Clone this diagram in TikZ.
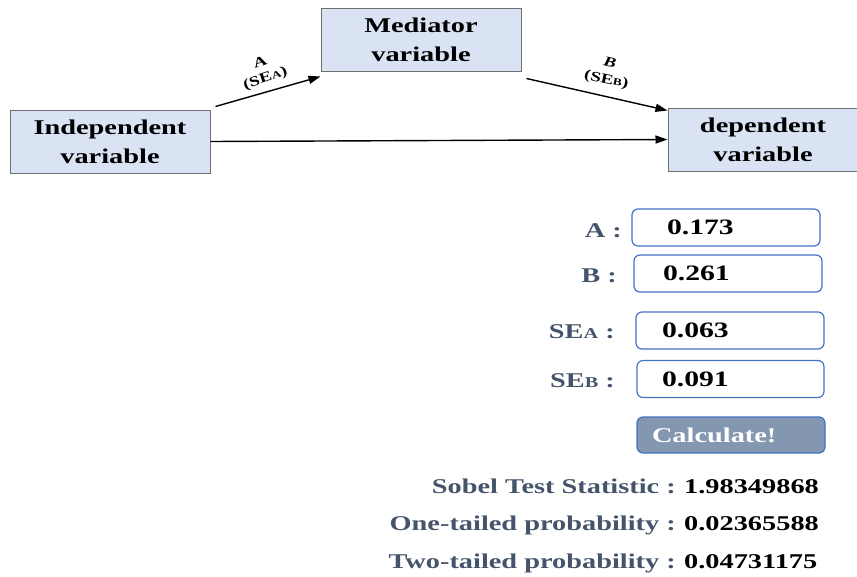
\documentclass[tikz,border=0pt]{standalone}
\usepackage{fontspec}
\setmainfont[FakeStretch=1.35]{Liberation Serif}
\usetikzlibrary{arrows.meta}
\definecolor{boxfill}{HTML}{DAE3F3}
\definecolor{boxline}{HTML}{6F6F6F}
\definecolor{labcol}{HTML}{44546A}
\definecolor{inline}{HTML}{4472C4}
\definecolor{btnfill}{HTML}{8497B0}
\newcommand{\smc}[1]{{\fontsize{15}{15}\selectfont #1}}
\newcommand{\smcs}[1]{{\fontsize{10}{10}\selectfont #1}}
\begin{document}
\begin{tikzpicture}[x=1pt,y=-1pt,
  varbox/.style={draw=boxline, fill=boxfill, line width=1pt, minimum width=200pt, minimum height=63pt,
     align=center, inner sep=0pt, font=\bfseries\fontsize{21}{29}\selectfont},
  arr/.style={line width=1.4pt, -{Triangle[length=12pt,width=8pt]}},
  elab/.style={font=\bfseries\fontsize{14}{17}\selectfont, inner sep=0pt, align=center},
  inbox/.style={draw=inline, rounded corners=6pt, line width=1.2pt, fill=white, minimum height=37pt,
     align=left, inner ysep=0pt, font=\bfseries\fontsize{22}{22}\selectfont},
  flab/.style={font=\bfseries\fontsize{21}{21}\selectfont, text=labcol, inner sep=0pt, anchor=base east},
  rval/.style={font=\bfseries\fontsize{21}{21}\selectfont, text=black, inner sep=0pt, anchor=base west}]
\useasboundingbox (0,0) rectangle (857,576);
% variable boxes
\node[varbox] (iv) at (110,141.5) {Independent\\variable};
\node[varbox] (mv) at (421,39.5) {Mediator\\variable};
\node[varbox, minimum width=190pt] (dv) at (763,139.5) {dependent\\variable};
% connectors
\draw[arr] ([xshift=5pt,yshift=3pt]iv.north east) -- ([yshift=-5pt]mv.south west);
\draw[arr] ([xshift=5pt,yshift=-7pt]mv.south east) -- ([yshift=-3pt]dv.north west);
\draw[arr] (iv.east) -- (dv.west);
% connector labels
\node[elab, rotate=18] (la) at (263,71) {A\\(SE\smcs{A})};
\node[elab, rotate=-12] (lb) at (608,72) {\itshape B\\(SE\smcs{B})};
% input fields
\node[inbox, inner xsep=35pt, text width=118pt] (ba) at (726,227.5) {0.173};
\node[inbox, inner xsep=29pt, text width=130pt] (bb) at (728,273.5) {0.261};
\node[inbox, inner xsep=26pt, text width=136pt] (bsa) at (730,330.5) {0.063};
\node[inbox, inner xsep=25pt, text width=137pt] (bsb) at (730.5,379) {0.091};
% field labels
\node[flab] (ta) at (622,237) {A :};
\node[flab] (tb) at (617,282) {B :};
\node[flab] (tsa) at (615,338) {SE\smc{A} :};
\node[flab] (tsb) at (615,387) {SE\smc{B} :};
% button
\node[draw=inline, rounded corners=6pt, line width=1.2pt, fill=btnfill, minimum width=188pt, minimum height=36pt,
      text width=158pt, inner xsep=15pt, align=left, text=white, font=\bfseries\fontsize{21}{21}\selectfont] (calc) at (731,435) {Calculate!};
% results
\node[flab] (r1) at (676,493) {Sobel Test Statistic :};
\node[rval] (v1) at (684,493) {1.98349868};
\node[flab] (r2) at (676,530) {One-tailed probability :};
\node[rval] (v2) at (684,530) {0.02365588};
\node[flab] (r3) at (676,568) {Two-tailed probability :};
\node[rval] (v3) at (684,568) {0.04731175};
\end{tikzpicture}
\end{document}
